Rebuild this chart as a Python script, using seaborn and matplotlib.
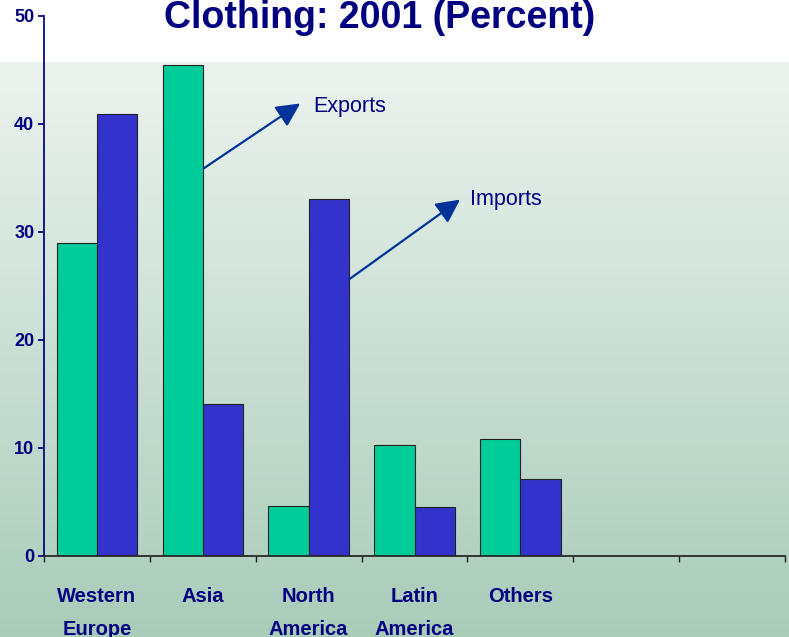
import numpy as np
import pandas as pd
import seaborn as sns
import matplotlib
matplotlib.use("Agg")
import matplotlib.pyplot as plt

# 数据
regions = ["Western\nEurope", "Asia", "North\nAmerica", "Latin\nAmerica", "Others"]
exports = [29.0, 45.5, 4.6, 10.3, 10.8]
imports = [40.9, 14.1, 33.1, 4.5, 7.1]
series = ["Exports", "Imports"]

NAVY = "#000080"
ARROW = "#003399"
COLORS = ["#00CC99", "#3333CC"]

sns.set_theme(style="ticks")
plt.rcParams['font.family'] = ['Liberation Sans', 'DejaVu Sans']

df = pd.DataFrame({
    "region": regions * 2,
    "value": exports + imports,
    "series": [series[0]] * len(regions) + [series[1]] * len(regions),
})

fig = plt.figure(figsize=(7.89, 6.37), dpi=100)
fig.patch.set_facecolor("white")

# 背景渐变
bg = fig.add_axes([0, 0, 1, 1 - 62 / 637], zorder=-1)
grad = np.linspace(0, 1, 256).reshape(-1, 1)
top_c = np.array([0xEC, 0xF3, 0xEF]) / 255
bot_c = np.array([0xA9, 0xCC, 0xB9]) / 255
img = top_c * (1 - grad[..., None]) + bot_c * grad[..., None]
img = np.repeat(img, 2, axis=1)
bg.imshow(img, aspect="auto", extent=[0, 1, 0, 1])
bg.axis("off")

ax = fig.add_axes([44 / 789, 81 / 637, 741 / 789, 540 / 637])
ax.set_facecolor("none")

sns.barplot(data=df, x="region", y="value", hue="series", order=regions,
            palette=COLORS, saturation=1, width=0.76, gap=0, edgecolor="#222222",
            linewidth=0.8, ax=ax, legend=False)

ax.set_xlim(-0.5, 6.5)
ax.set_ylim(0, 50)
ax.set_yticks(range(0, 51, 10))
ax.set_xlabel("")
ax.set_ylabel("")

for s in ["top", "right"]:
    ax.spines[s].set_visible(False)
ax.spines["left"].set_color(NAVY)
ax.spines["bottom"].set_color("#222222")

ax.set_xticks(np.arange(-0.5, 7, 1), minor=True)
ax.tick_params(axis="x", which="major", length=0, pad=22)
ax.tick_params(axis="x", which="minor", length=4, color="#222222", direction="out")
ax.tick_params(axis="y", length=4, color=NAVY, pad=3)

for lab in ax.get_xticklabels():
    lab.set_fontsize(14.5)
    lab.set_fontweight("bold")
    lab.set_color(NAVY)
    lab.set_linespacing(1.93)
    lab.set_verticalalignment("top")
for lab in ax.get_yticklabels():
    lab.set_fontsize(13)
    lab.set_fontweight("bold")
    lab.set_color(NAVY)

# 标注
arrow_kw = dict(arrowstyle="-|>", color=ARROW, lw=1.6, mutation_scale=36,
                shrinkA=0, shrinkB=0)
ax.annotate("", xy=(1.92, 41.9), xytext=(1.01, 35.9), arrowprops=arrow_kw)
ax.text(2.04, 41.6, "Exports", color=NAVY, fontsize=15.5, va="center", ha="left")
ax.annotate("", xy=(3.43, 33.0), xytext=(2.38, 25.6), arrowprops=arrow_kw)
ax.text(3.52, 33.0, "Imports", color=NAVY, fontsize=15.5, va="center", ha="left")

fig.text(380 / 789, 1 - 28 / 637, "Clothing: 2001 (Percent)", ha="center", va="baseline",
         fontsize=27, fontweight="bold", color=NAVY)

fig.savefig("out.png", dpi=100)
